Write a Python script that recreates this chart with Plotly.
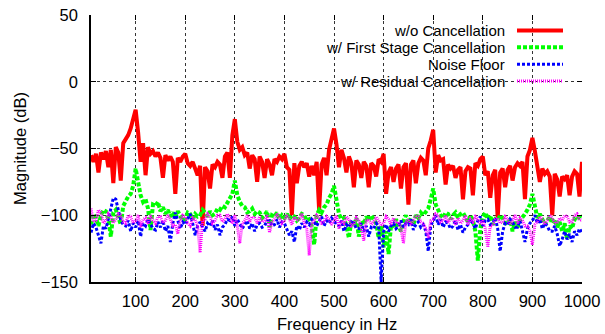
import plotly.graph_objects as go

# ---------------- data ----------------
freq = list(range(10, 1001, 5))
red_db = [
    -55, -60, -54, -68, -53, -58, -52, -64, -51, -76,
    -49, -53, -74, -46, -43, -40, -35, -28, -21, -38,
    -60, -46, -70, -49, -54, -52, -56, -53, -57, -72,
    -55, -59, -56, -60, -84, -57, -60, -56, -54, -61,
    -63, -60, -66, -70, -63, -108, -64, -67, -80, -62,
    -64, -60, -62, -72, -56, -53, -72, -40, -28, -45,
    -51, -49, -55, -53, -65, -55, -58, -75, -56, -60,
    -72, -58, -62, -70, -58, -60, -56, -58, -54, -64,
    -66, -100, -61, -76, -63, -60, -64, -61, -71, -63,
    -70, -60, -96, -62, -57, -70, -51, -44, -35, -47,
    -64, -51, -57, -68, -56, -61, -79, -59, -62, -72,
    -60, -63, -79, -61, -63, -71, -58, -60, -54, -84,
    -68, -64, -75, -65, -62, -80, -64, -61, -92, -62,
    -59, -76, -61, -57, -59, -70, -50, -44, -36, -68,
    -55, -59, -58, -77, -62, -65, -63, -72, -66, -64,
    -88, -67, -64, -65, -85, -61, -63, -58, -56, -70,
    -67, -87, -70, -66, -102, -68, -65, -79, -66, -63,
    -74, -64, -61, -63, -60, -88, -56, -51, -42, -52,
    -64, -75, -65, -69, -67, -71, -100, -69, -73, -86,
    -71, -73, -70, -85, -71, -67, -69, -86, -60,
]
green_db = [
    -107, -99, -102, -108, -100, -96, -97, -103, -116, -98,
    -96, -101, -107, -93, -89, -86, -84, -78, -65, -76,
    -85, -90, -88, -95, -111, -92, -93, -90, -97, -94,
    -99, -96, -101, -98, -102, -97, -100, -104, -103, -98,
    -99, -103, -99, -101, -100, -96, -98, -101, -97, -100,
    -99, -95, -96, -93, -94, -91, -88, -84, -74, -85,
    -90, -93, -94, -98, -97, -95, -99, -97, -98, -102,
    -100, -97, -109, -100, -101, -98, -103, -100, -102, -99,
    -103, -100, -101, -104, -102, -99, -100, -104, -103, -108,
    -122, -100, -96, -98, -94, -92, -87, -84, -78, -90,
    -99, -103, -102, -108, -117, -104, -108, -102, -116, -104,
    -107, -101, -104, -100, -103, -106, -117, -108, -124, -112,
    -129, -107, -110, -103, -108, -112, -104, -100, -106, -102,
    -107, -100, -102, -98, -100, -97, -95, -88, -80, -92,
    -97, -100, -102, -98, -99, -103, -100, -98, -102, -99,
    -98, -101, -105, -100, -104, -112, -134, -110, -101, -98,
    -103, -100, -107, -103, -104, -100, -102, -106, -106, -103,
    -112, -105, -109, -104, -102, -99, -96, -92, -84, -95,
    -102, -99, -103, -107, -104, -101, -106, -103, -109, -105,
    -112, -106, -118, -108, -110, -103, -104, -100, -101,
]
blue_db = [
    -113, -106, -109, -116, -121, -108, -110, -103, -96, -87,
    -88, -97, -104, -107, -108, -104, -112, -106, -109, -104,
    -116, -106, -108, -103, -106, -110, -111, -105, -109, -104,
    -112, -108, -120, -106, -98, -104, -110, -105, -107, -103,
    -99, -106, -115, -108, -105, -109, -112, -106, -108, -104,
    -111, -107, -115, -109, -107, -103, -104, -101, -108, -103,
    -106, -110, -107, -104, -110, -106, -112, -107, -106, -109,
    -108, -104, -104, -108, -107, -103, -109, -105, -106, -110,
    -115, -112, -120, -108, -111, -106, -109, -105, -107, -103,
    -105, -108, -104, -101, -108, -104, -106, -102, -104, -107,
    -108, -104, -112, -107, -109, -105, -106, -110, -110, -106,
    -112, -108, -116, -109, -110, -106, -108, -150, -112, -107,
    -112, -108, -106, -110, -108, -104, -109, -106, -107, -103,
    -111, -107, -105, -109, -107, -112, -127, -108, -104, -100,
    -107, -103, -109, -105, -106, -110, -108, -104, -111, -107,
    -113, -109, -107, -103, -106, -110, -104, -101, -108, -104,
    -103, -107, -106, -102, -110, -127, -112, -106, -107, -103,
    -105, -109, -109, -104, -112, -120, -110, -106, -104, -100,
    -106, -103, -110, -106, -108, -112, -112, -108, -114, -123,
    -118, -112, -118, -114, -120, -112, -115, -110, -113,
]
magenta_db = [
    -95, -105, -104, -96, -98, -106, -104, -99, -101, -106,
    -103, -99, -100, -105, -106, -100, -101, -106, -104, -100,
    -109, -103, -102, -107, -100, -104, -106, -101, -101, -106,
    -104, -100, -103, -108, -107, -114, -104, -100, -101, -106,
    -108, -102, -103, -108, -128, -104, -103, -99, -101, -106,
    -104, -100, -100, -105, -103, -99, -102, -106, -100, -108,
    -121, -106, -104, -100, -105, -101, -102, -106, -101, -105,
    -104, -100, -113, -105, -103, -99, -102, -106, -104, -100,
    -103, -107, -101, -104, -103, -99, -106, -110, -130, -106,
    -104, -100, -102, -106, -105, -101, -103, -107, -104, -100,
    -110, -104, -106, -101, -103, -108, -107, -102, -104, -110,
    -119, -104, -103, -107, -105, -101, -104, -108, -106, -101,
    -103, -107, -102, -106, -105, -110, -121, -105, -103, -107,
    -104, -100, -101, -105, -106, -110, -117, -104, -103, -99,
    -100, -105, -104, -100, -106, -102, -103, -107, -102, -106,
    -104, -100, -107, -103, -105, -101, -103, -107, -104, -110,
    -124, -108, -108, -103, -102, -106, -105, -101, -103, -107,
    -104, -100, -106, -102, -104, -108, -108, -112, -122, -107,
    -105, -101, -103, -107, -104, -100, -102, -106, -106, -102,
    -104, -100, -101, -105, -105, -100, -99, -104, -103,
]

series_names = ["w/o Cancellation", "w/ First Stage Cancellation",
                "Noise Floor", "w/ Residual Cancellation"]
x_ticks = [100, 200, 300, 400, 500, 600, 700, 800, 900, 1000]
y_ticks = [-150, -100, -50, 0, 50]
x_title = "Frequency in Hz"
y_title = "Magnitude (dB)"

# ---------------- styling ----------------
FONT = "Liberation Sans, Arial, Helvetica, sans-serif"
FS = 16.5
KEY_FS = 15
styles = [
    dict(color="#ff0000", width=4, dash="solid"),
    dict(color="#00ff00", width=4, dash="4px,2px"),
    dict(color="#0000ff", width=3, dash="3px,2px"),
    dict(color="#ff00ff", width=3, dash="1px,1px"),
]

W, H = 605, 334
L, R, T, B = 91, 23, 15, 52
plot_w = W - L - R
plot_h = H - T - B


def px_x(px):
    return (px - L) / plot_w


def px_y(py):
    return (H - B - py) / plot_h


fig = go.Figure()
for ys, name, st in zip([red_db, green_db, blue_db, magenta_db], series_names, styles):
    fig.add_trace(go.Scatter(x=freq, y=ys, mode="lines", name=name,
                             line=dict(color=st["color"], width=st["width"], dash=st["dash"]),
                             showlegend=False))

# helper axes for mirrored ticks (no data)
fig.add_trace(go.Scatter(x=[None], y=[None], xaxis="x2", yaxis="y2", showlegend=False,
                         hoverinfo="skip"))

# gnuplot-style key: text right-aligned, sample to the right
rows_py = [30.4, 47.3, 64.2, 81.1]
for name, st, py in zip(series_names, styles, rows_py):
    fig.add_annotation(x=px_x(506), y=px_y(py), xref="paper", yref="paper",
                       text=name, showarrow=False, xanchor="right", yanchor="middle",
                       borderpad=0, font=dict(family=FONT, size=KEY_FS, color="#000"))
    fig.add_shape(type="line", xref="paper", yref="paper",
                  x0=px_x(517), x1=px_x(563), y0=px_y(py), y1=px_y(py),
                  line=dict(color=st["color"], width=st["width"], dash=st["dash"]))

# x-axis title placed as annotation for exact vertical position
fig.add_annotation(x=0.5, y=px_y(323.6), xref="paper", yref="paper", text=x_title,
                   showarrow=False, xanchor="center", yanchor="middle", borderpad=0,
                   font=dict(family=FONT, size=FS, color="#000"))

grid = dict(showgrid=True, gridcolor="rgba(0,0,0,0.8)", griddash="dot", gridwidth=1)
fig.update_layout(
    width=W, height=H,
    margin=dict(l=L, r=R, t=T, b=B, pad=0, autoexpand=False),
    paper_bgcolor="white", plot_bgcolor="white",
    font=dict(family=FONT, size=FS, color="#000"),
    xaxis=dict(range=[10, 1000], tickvals=x_ticks, ticks="inside", ticklen=5,
               tickcolor="#000", showline=True, linecolor="#000", linewidth=1.5,
               zeroline=False, tickfont=dict(size=FS), ticklabelstandoff=3, automargin=False,
               **grid),
    yaxis=dict(range=[-150, 50], tickvals=y_ticks, ticks="inside", ticklen=5,
               tickcolor="#000", showline=True, linecolor="#000", linewidth=1.5,
               zeroline=False, tickfont=dict(size=FS), ticklabelstandoff=8, automargin=False,
               title=dict(text=y_title, font=dict(size=FS), standoff=10), **grid),
    xaxis2=dict(range=[10, 1000], tickvals=x_ticks, ticks="inside", ticklen=5,
                tickcolor="#000", overlaying="x", side="top", showticklabels=False,
                showgrid=False, zeroline=False, showline=False, automargin=False),
    yaxis2=dict(range=[-150, 50], tickvals=y_ticks, ticks="inside", ticklen=5,
                tickcolor="#000", overlaying="y", side="right", showticklabels=False,
                showgrid=False, zeroline=False, showline=False, automargin=False),
)

fig.write_html("out.html")
